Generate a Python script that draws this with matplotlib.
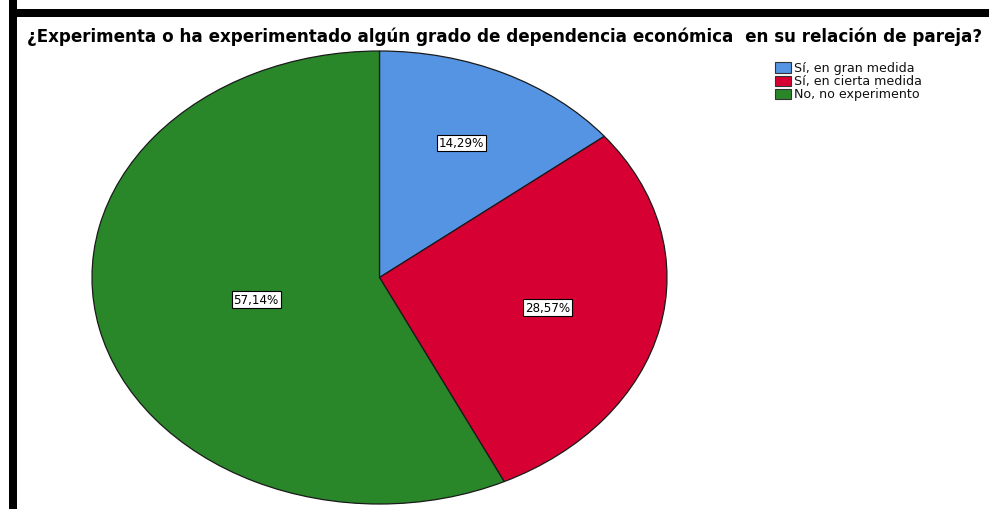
import numpy as np
import matplotlib
matplotlib.use("Agg")
import matplotlib.pyplot as plt
from matplotlib.patches import Rectangle

# ============================
# DATA
# ============================
title = "¿Experimenta o ha experimentado algún grado de dependencia económica  en su relación de pareja?"
categories = ["Sí, en gran medida", "Sí, en cierta medida", "No, no experimento"]
percentages = [14.29, 28.57, 57.14]
colors = ["#5494E3", "#D60032", "#29872A"]
label_radius = [0.66, 0.6, 0.44]

W, H = 989, 510


def fx(px):
    return px / W


def fy(py):
    return 1 - py / H


fig = plt.figure(figsize=(W / 100, H / 100), dpi=100)
fig.patch.set_facecolor("white")

# frame lines (top and left)
fig.add_artist(Rectangle((fx(9), fy(510)), fx(8), 1, transform=fig.transFigure,
                         facecolor="black", edgecolor="none"))
fig.add_artist(Rectangle((fx(9), fy(17.5)), 1, 7.5 / H, transform=fig.transFigure,
                         facecolor="black", edgecolor="none"))

# ============================
# PIE
# ============================
ax = fig.add_axes([fx(92), fy(505), fx(667) - fx(92), (505 - 52) / H])
wedges, _ = ax.pie(percentages, colors=colors, startangle=90, counterclock=False,
                   radius=1, wedgeprops=dict(edgecolor="#1a1a1a", linewidth=0.9))
ax.set_aspect("auto")
ax.set_xlim(-1, 1)
ax.set_ylim(-1, 1)
ax.axis("off")

for w, pct, r in zip(wedges, percentages, label_radius):
    mid = np.deg2rad((w.theta1 + w.theta2) / 2)
    ax.text(r * np.cos(mid), r * np.sin(mid), f"{pct:.2f}%".replace(".", ","),
            ha="center", va="center", fontsize=8.6, family="DejaVu Sans",
            bbox=dict(boxstyle="square,pad=0.15", facecolor="white",
                      edgecolor="black", linewidth=0.8))

# ============================
# TITLE + LEGEND
# ============================
fig.text(fx(27), fy(37), title, ha="left", va="center", fontsize=12.1,
         fontweight="bold", family="DejaVu Sans")

for i, (cat, col) in enumerate(zip(categories, colors)):
    cy = 68.5 + i * 13
    fig.add_artist(Rectangle((fx(775), fy(cy + 5)), fx(16), 10 / H,
                             transform=fig.transFigure, facecolor=col,
                             edgecolor="#333333", linewidth=0.8))
    fig.text(fx(794), fy(cy), cat, ha="left", va="center", fontsize=9.1,
             family="DejaVu Sans", color="#111111")

fig.savefig("out.png", dpi=100)
